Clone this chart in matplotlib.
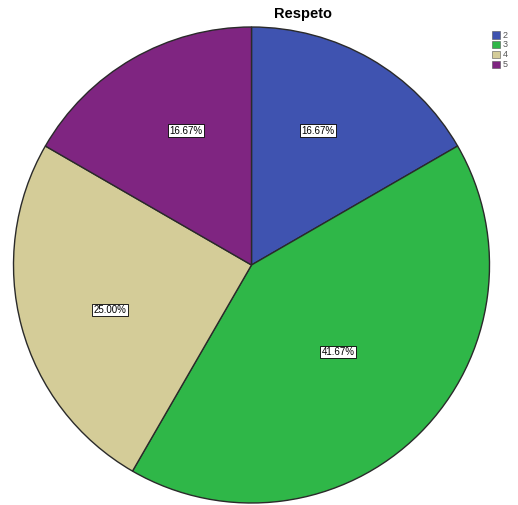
import matplotlib
matplotlib.use("Agg")
import matplotlib.pyplot as plt
import numpy as np

categories = ["2", "3", "4", "5"]
values = [16.67, 41.67, 25.00, 16.67]
colors = ["#3f53b0", "#2fb748", "#d4cc98", "#7f2581"]
label_radius = [0.63, 0.515, 0.625, 0.627]
label_angle_shift = [3.6, -0.2, 2.6, -4]
title = "Respeto"

plt.rcParams['font.family'] = ['Liberation Sans', 'DejaVu Sans']

fig = plt.figure(figsize=(5.18, 5.05), dpi=100)
ax = fig.add_axes([13.5/518, 2/505, 476/518, 476/505])
wedges, _ = ax.pie(values, colors=colors, startangle=90, counterclock=False,
                   radius=1, wedgeprops=dict(edgecolor="#2a2a2a", linewidth=1.0))
ax.set_xlim(-1.0, 1.0)
ax.set_ylim(-1.0, 1.0)
ax.set_aspect('auto')
ax.axis('off')

for w, v, r, s in zip(wedges, values, label_radius, label_angle_shift):
    ang = np.deg2rad((w.theta1 + w.theta2) / 2 + s)
    ax.text(r*np.cos(ang), r*np.sin(ang), f"{v:.2f}%", ha='center', va='center',
            fontsize=7, color='black',
            bbox=dict(boxstyle='square,pad=0.15', facecolor='white', edgecolor='black', linewidth=0.6))

fig.text(303/518, 1 - 14/505, title, ha='center', va='center', fontsize=10.5, fontweight='bold')

for i, (c, lab) in enumerate(zip(colors, categories)):
    y = 35 + i*9.8
    fig.patches.append(plt.Rectangle((492/518, 1 - (y+3.5)/505), 8/518, 7/505,
                                     transform=fig.transFigure, facecolor=c, edgecolor='#555555', linewidth=0.4))
    fig.text(503/518, 1 - y/505, lab, ha='left', va='center', fontsize=6.5, color='#555555')

fig.savefig("out.png", dpi=100)
